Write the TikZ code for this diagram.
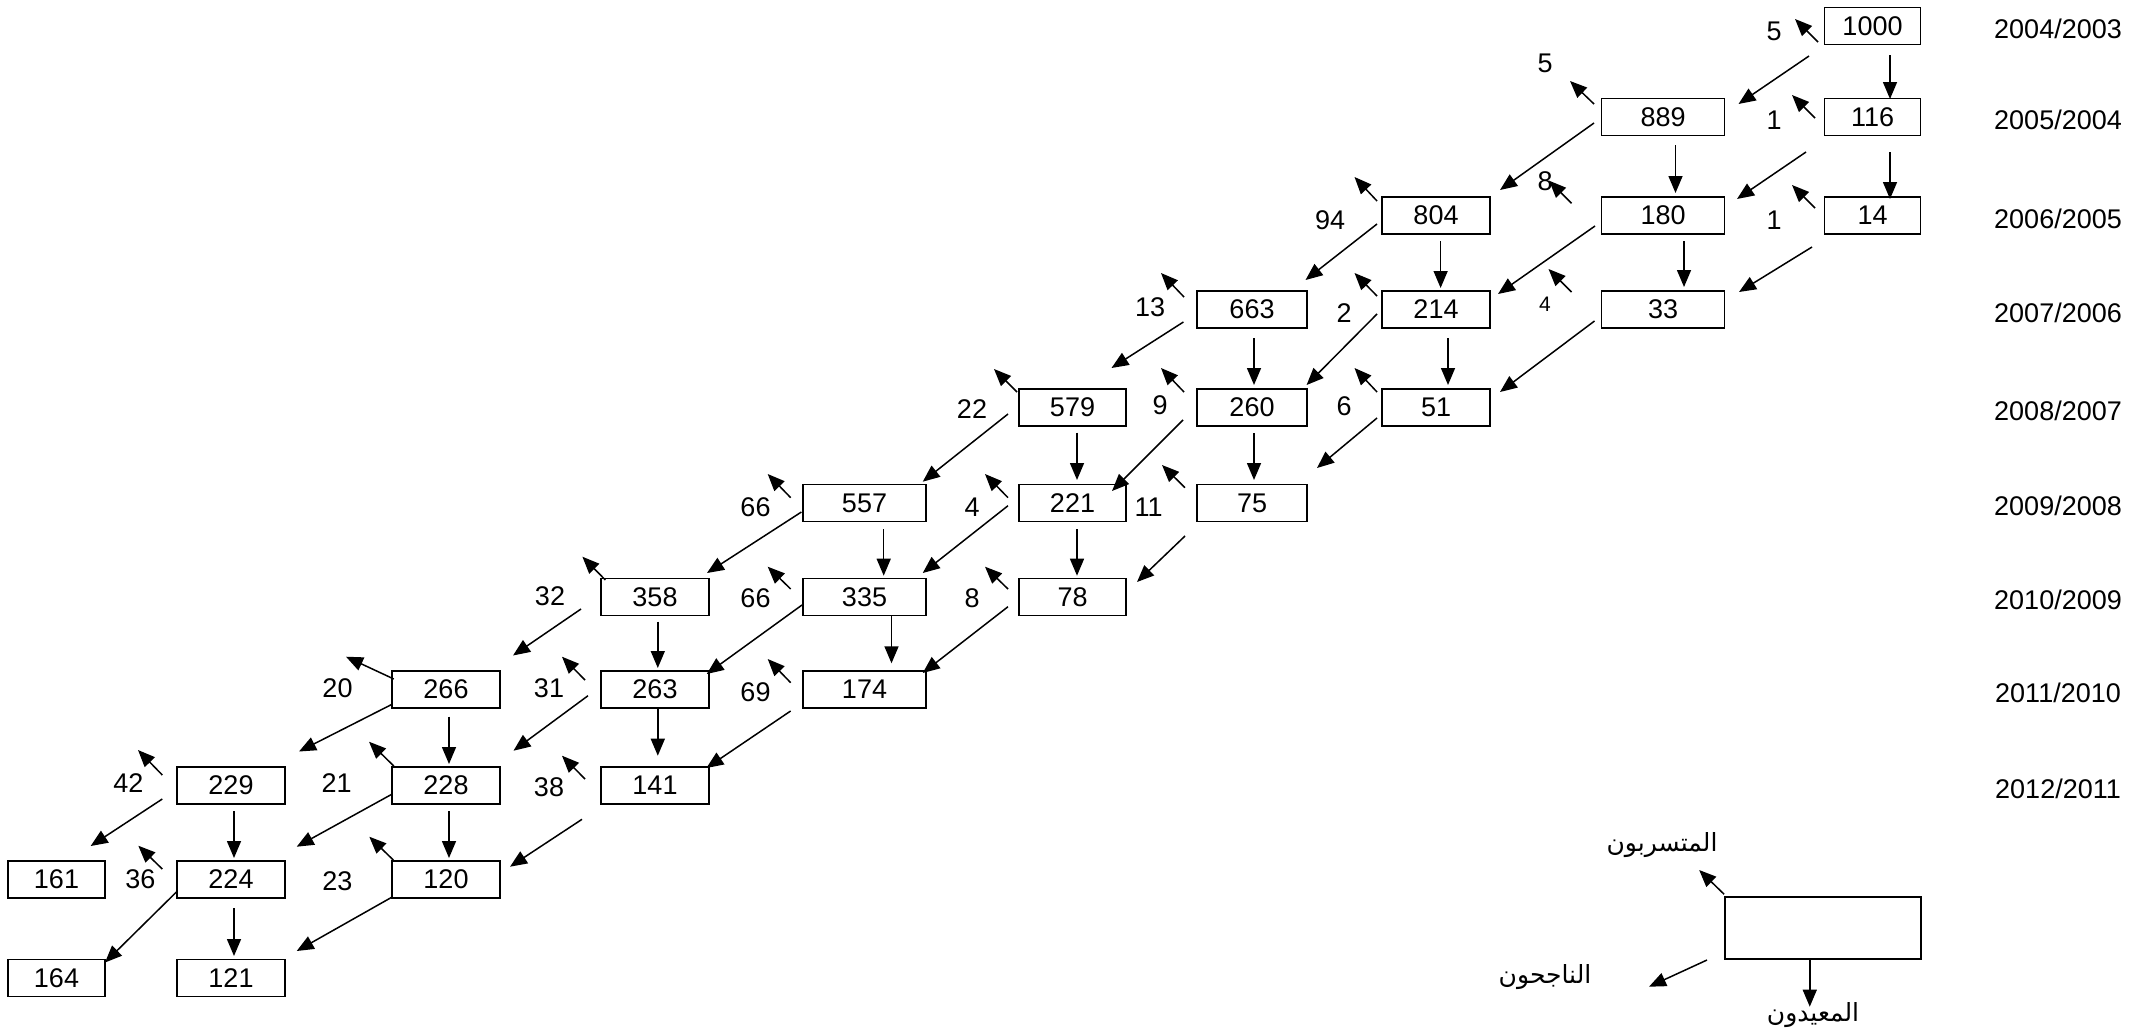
\documentclass[tikz,border=0pt]{standalone}
\usepackage{fontspec}
\setmainfont{Liberation Sans}
\newfontfamily\arabicfont[Script=Arabic]{DejaVu Sans}
\TeXXeTstate=1
\usetikzlibrary{arrows.meta,calc}
\newcommand\fs{\fontsize{27}{32}\selectfont}
\newcommand\fsar{\fontsize{25}{30}\selectfont}
\newcommand\fsmall{\fontsize{21}{25}\selectfont}
\newcommand\mydrop[5]{\draw[arr] ($(#1.north west)+(#2,#3)$) -- ++(#4,#5);}
\newcommand\myprom[6]{\draw[arr] ($(#1.north west)+(#2,#3)$) -- ($(#4.north east)+(#5,#6)$);}
\newcommand\myrep[5]{\draw[arr] ($(#1.south)+(#2,#3)$) -- ($(#4.north)+(#2,#5)$);}
\begin{document}
\begin{tikzpicture}[x=1pt,y=-1pt,
  box/.style={draw, line width=1.8pt, minimum height=37pt, inner sep=0pt, outer sep=0pt, font=\fs},
  bA/.style={box, minimum width=96pt},
  bB/.style={box, minimum width=123pt},
  bC/.style={box, minimum width=108pt},
  bD/.style={box, minimum width=110pt},
  bE/.style={box, minimum width=107pt},
  bJ/.style={box, minimum width=97pt},
  arr/.style={line width=1.5pt, -{Triangle[length=17pt,width=14pt]}},
  lbl/.style={inner sep=0pt, font=\fs},
  yr/.style={inner sep=0pt, font=\fs},
  ar/.style={inner sep=0pt, font=\arabicfont\fsar}]
\useasboundingbox (0,0) rectangle (2140,1034);
% boxes
\node[bA] (n1000) at (1872.5,26) {1000};
\node[bA] (n116) at (1872.5,117) {116};
\node[bA] (n14) at (1872.5,215.5) {14};
\node[bB] (n889) at (1663,117) {889};
\node[bB] (n180) at (1663,215.5) {180};
\node[bB] (n33) at (1663,309.5) {33};
\node[bC] (n804) at (1436,215.5) {804};
\node[bC] (n214) at (1436,309.5) {214};
\node[bC] (n51) at (1436,407.5) {51};
\node[bD] (n663) at (1252,309.5) {663};
\node[bD] (n260) at (1252,407.5) {260};
\node[bD] (n75) at (1252,503) {75};
\node[bE] (n579) at (1072.5,407.5) {579};
\node[bE] (n221) at (1072.5,503) {221};
\node[bE] (n78) at (1072.5,597) {78};
\node[bB] (n557) at (864.5,503) {557};
\node[bB] (n335) at (864.5,597) {335};
\node[bB] (n174) at (864.5,689.5) {174};
\node[bC] (n358) at (655,597) {358};
\node[bC] (n263) at (655,689.5) {263};
\node[bC] (n141) at (655,785.5) {141};
\node[bC] (n266) at (446,689.5) {266};
\node[bC] (n228) at (446,785.5) {228};
\node[bC] (n120) at (446,879.5) {120};
\node[bC] (n229) at (231,785.5) {229};
\node[bC] (n224) at (231,879.5) {224};
\node[bC] (n121) at (231,978) {121};
\node[bJ] (n161) at (56.5,879.5) {161};
\node[bJ] (n164) at (56.5,978) {164};
\node[box, minimum width=196pt, minimum height=62pt] (leg) at (1822.75,928) {};
% year labels
\node[yr] (y1) at (2058,29) {2004/2003};
\node[yr] (y2) at (2058,120) {2005/2004};
\node[yr] (y3) at (2058,218.5) {2006/2005};
\node[yr] (y4) at (2058,312.5) {2007/2006};
\node[yr] (y5) at (2058,410.5) {2008/2007};
\node[yr] (y6) at (2058,506) {2009/2008};
\node[yr] (y7) at (2058,600) {2010/2009};
\node[yr] (y8) at (2058,692.5) {2011/2010};
\node[yr] (y9) at (2058,788.5) {2012/2011};
% dropout labels
\node[lbl] (l1000) at (1774,31) {5};
\node[lbl] (l889) at (1545,63) {5};
\node[lbl] (l116) at (1774,120) {1};
\node[lbl] (l804) at (1330,220) {94};
\node[lbl] (l180) at (1545,181) {8};
\node[lbl] (l14) at (1774,220) {1};
\node[lbl] (l663) at (1150,307) {13};
\node[lbl] (l214) at (1344,313) {2};
\node[inner sep=0pt, font=\fsmall] (l33) at (1545,304) {4};
\node[lbl] (l579) at (972,409) {22};
\node[lbl] (l260) at (1160,405) {9};
\node[lbl] (l51) at (1344,406) {6};
\node[lbl] (l557) at (755.5,507) {66};
\node[lbl] (l221) at (972,507) {4};
\node[lbl] (l75) at (1148.5,507) {11};
\node[lbl] (l358) at (550,596) {32};
\node[lbl] (l335) at (755.5,598) {66};
\node[lbl] (l78) at (972,598) {8};
\node[lbl] (l266) at (337.5,688) {20};
\node[lbl] (l263) at (549,688) {31};
\node[lbl] (l174) at (755.5,692) {69};
\node[lbl] (l229) at (128.3,783.3) {42};
\node[lbl] (l228) at (336.7,783.3) {21};
\node[lbl] (l141) at (549,787) {38};
\node[lbl] (l224) at (140.5,879) {36};
\node[lbl] (l120) at (337.3,880.7) {23};
% legend labels
\node[ar] (tdrop) at (1662,845) {\beginR المتسربون\endR};
\node[ar] (tpass) at (1545,977) {\beginR الناجحون\endR};
\node[ar] (trep) at (1813,1015) {\beginR المعيدون\endR};
% dropout arrows
\mydrop{n1000}{-6.5}{34.5}{-23}{-23}
\mydrop{n889}{-7.5}{5.5}{-24}{-23}
\mydrop{n116}{-9.5}{19.5}{-23}{-23}
\mydrop{n804}{-5}{4}{-22.5}{-24}
\mydrop{n180}{-30}{6.3}{-22.4}{-22.6}
\mydrop{n14}{-9.5}{11}{-23}{-23}
\mydrop{n663}{-13}{6}{-23}{-24}
\mydrop{n214}{-5}{5}{-22.5}{-23}
\mydrop{n33}{-30}{1}{-23}{-23}
\mydrop{n579}{-2}{3}{-23}{-23}
\mydrop{n260}{-13}{3}{-23}{-24}
\mydrop{n51}{-5}{3}{-22.5}{-24}
\mydrop{n557}{-12.3}{13.2}{-23}{-23.7}
\mydrop{n221}{-11}{13.2}{-23}{-23.7}
\mydrop{n75}{-12}{3.2}{-23}{-22.7}
\mydrop{n358}{4.4}{1.5}{-23}{-23.3}
\mydrop{n335}{-12.3}{10.5}{-23}{-22.3}
\mydrop{n78}{-11}{10.5}{-23}{-22.3}
\mydrop{n266}{1.8}{8}{-47.8}{-22.3}
\mydrop{n263}{-16}{9}{-23}{-23.3}
\mydrop{n174}{-12.3}{11.7}{-23}{-23.7}
\mydrop{n229}{-14.7}{8}{-24.3}{-25}
\mydrop{n228}{1.8}{-1}{-24.8}{-24.3}
\mydrop{n141}{-16}{12}{-23}{-23.3}
\mydrop{n224}{-14.7}{8}{-24}{-23.3}
\mydrop{n120}{1.3}{-1}{-24}{-23.3}
\mydrop{leg}{-0.6}{-2.7}{-25}{-24.3}
% promotion arrows
\myprom{n1000}{-15.5}{48.5}{n889}{14}{5.5}
\myprom{n889}{-7.5}{24.5}{n804}{10}{-7}
\myprom{n116}{-18.5}{53.5}{n180}{12.5}{2}
\myprom{n804}{-5}{27}{n663}{-1.5}{-11}
\myprom{n180}{-6.5}{29}{n214}{8}{3}
\myprom{n14}{-12.5}{50}{n33}{14.5}{1}
\myprom{n663}{-13.6}{31}{n579}{-14.5}{-21}
\myprom{n214}{-5}{23}{n260}{-0.4}{-4}
\myprom{n33}{-7}{30}{n51}{10}{3}
\myprom{n579}{-11}{25}{n557}{-3.3}{-2.8}
\myprom{n260}{-14}{31}{n221}{-14}{6.5}
\myprom{n51}{-5}{29}{n75}{10}{-16.5}
\myprom{n557}{-1.6}{27.5}{n358}{-2}{-5.5}
\myprom{n221}{-11}{21.2}{n335}{-3.3}{-5.5}
\myprom{n75}{-12}{51.5}{n78}{11}{3.5}
\myprom{n358}{-20}{30.5}{n266}{13}{-15.5}
\myprom{n335}{-1}{26.5}{n263}{-2.3}{3}
\myprom{n78}{-11}{28.2}{n174}{-3.3}{2}
\myprom{n266}{0.6}{33}{n229}{14}{-15.5}
\myprom{n263}{-13}{24.7}{n228}{13.5}{-16.3}
\myprom{n174}{-12.4}{40}{n141}{-2.6}{1}
\myprom{n229}{-14.7}{32}{n161}{-14.3}{-15}
\myprom{n228}{-0.3}{27.3}{n224}{11.7}{-14.3}
\myprom{n141}{-19}{52.3}{n120}{10}{5.7}
\myprom{n224}{-0.3}{30.7}{n164}{0}{3}
\myprom{n120}{0.7}{35.7}{n121}{11.7}{-8.5}
\draw[arr] ($(leg.north west)+(-17.75,63)$) -- ++(-58,26.7);
% repeater arrows
\myrep{n1000}{17.5}{10.5}{n116}{0.5}
\myrep{n889}{12.5}{9.5}{n180}{-4}
\myrep{n116}{17.5}{16.5}{n14}{2}
\myrep{n180}{21}{7}{n33}{-4}
\myrep{n804}{4.6}{7}{n214}{-3}
\myrep{n663}{2}{10}{n260}{-4}
\myrep{n214}{12}{10}{n51}{-4}
\myrep{n579}{4.5}{6.7}{n221}{-4.5}
\myrep{n260}{2}{7}{n75}{-4.5}
\myrep{n557}{19.2}{7.5}{n335}{-2.8}
\myrep{n221}{4.5}{7.5}{n78}{-2.8}
\myrep{n358}{2.8}{6.2}{n263}{-3}
\myrep{n335}{27}{0}{n174}{-7.7}
\myrep{n266}{3}{8.7}{n228}{-3}
\myrep{n263}{2.8}{0}{n141}{-11.3}
\myrep{n229}{3}{7}{n224}{-3}
\myrep{n228}{3}{7}{n120}{-3}
\myrep{n224}{3}{10}{n121}{-3.5}
\draw[arr] ($(leg.south)+(-13,0)$) -- ++(0,47.7);
\end{tikzpicture}
\end{document}
